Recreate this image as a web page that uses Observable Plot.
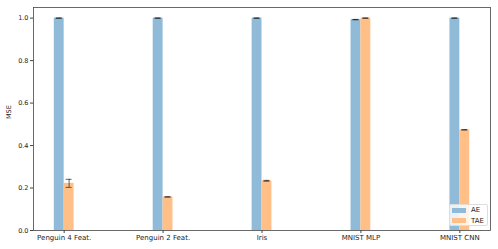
<!DOCTYPE html>
<html><head><meta charset="utf-8">
<script src="https://cdn.jsdelivr.net/npm/d3@7"></script>
<script src="https://cdn.jsdelivr.net/npm/@observablehq/plot@0.6"></script>
<style>
body{margin:0;background:#fff;font-family:"DejaVu Sans",sans-serif;}
#wrap{position:relative;width:498px;height:249px;}
.legend{position:absolute;left:449px;top:204px;width:37px;height:20px;border:1px solid #ddd;border-radius:2px;background:rgba(255,255,255,0.8);font-size:7px;color:#222;}
.legend .row{position:absolute;left:2px;height:8px;line-height:8px;display:flex;align-items:center;}
.legend .sw{width:14px;height:5px;margin-right:5px;}
</style>
</head><body><div id="wrap"></div>
<script>
const categories = ["Penguin 4 Feat.", "Penguin 2 Feat.", "Iris", "MNIST MLP", "MNIST CNN"];
const aeMean = [1.0, 1.0, 1.0, 0.993, 1.0];
const aeStd = [0.001, 0.001, 0.001, 0.001, 0.001];
const taeMean = [0.222, 0.158, 0.234, 1.0, 0.474];
const taeStd = [0.019, 0.001, 0.002, 0.001, 0.001];
const series = ["AE", "TAE"];
const colors = ["#8fbbd9", "#ffbf86"];

const barW = 0.1;
const rows = [];
categories.forEach((c, i) => {
  rows.push({i, s: "AE", x1: i - barW, x2: i, xc: i - barW / 2, m: aeMean[i], e: aeStd[i]});
  rows.push({i, s: "TAE", x1: i, x2: i + barW, xc: i + barW / 2, m: taeMean[i], e: taeStd[i]});
});

const chart = Plot.plot({
  width: 498, height: 249,
  marginLeft: 33, marginRight: 8, marginTop: 7, marginBottom: 19,
  style: {fontFamily: "DejaVu Sans", fontSize: "7px", color: "#222", background: "white"},
  x: {domain: [-0.31, 4.31], label: null},
  y: {domain: [0, 1.05], label: null},
  color: {domain: series, range: colors},
  marks: [
    Plot.rectY(rows, {x1: "x1", x2: "x2", y1: 0, y2: "m", fill: "s"}),
    Plot.ruleX(rows, {x: "xc", y1: d => d.m - d.e, y2: d => d.m + d.e, stroke: "#000", strokeOpacity: 0.75, strokeWidth: 0.8}),
    Plot.ruleY(rows, {y: d => d.m - d.e, x1: d => d.xc - 0.03, x2: d => d.xc + 0.03, stroke: "#000", strokeOpacity: 0.75, strokeWidth: 0.8}),
    Plot.ruleY(rows, {y: d => d.m + d.e, x1: d => d.xc - 0.03, x2: d => d.xc + 0.03, stroke: "#000", strokeOpacity: 0.75, strokeWidth: 0.8}),
    Plot.frame({stroke: "#444", strokeWidth: 0.8}),
    Plot.axisX({ticks: d3.range(categories.length), tickFormat: d => categories[d], tickSize: 3, tickPadding: 2, stroke: "#444", fontSize: 7}),
    Plot.axisY({ticks: [0, 0.2, 0.4, 0.6, 0.8, 1.0], tickFormat: d3.format(".1f"), tickSize: 3, tickPadding: 2, stroke: "#444", fontSize: 6.5}),
    Plot.text(["MSE"], {frameAnchor: "left", dx: -25, rotate: -90, fontSize: 6.5})
  ]
});
const wrap = document.getElementById("wrap");
wrap.appendChild(chart);
const leg = document.createElement("div");
leg.className = "legend";
series.forEach((s, k) => {
  const r = document.createElement("div");
  r.className = "row";
  r.style.top = (1 + k * 10.7) + "px";
  r.innerHTML = `<span class="sw" style="background:${colors[k]}"></span><span>${s}</span>`;
  leg.appendChild(r);
});
wrap.appendChild(leg);
</script></body></html>
